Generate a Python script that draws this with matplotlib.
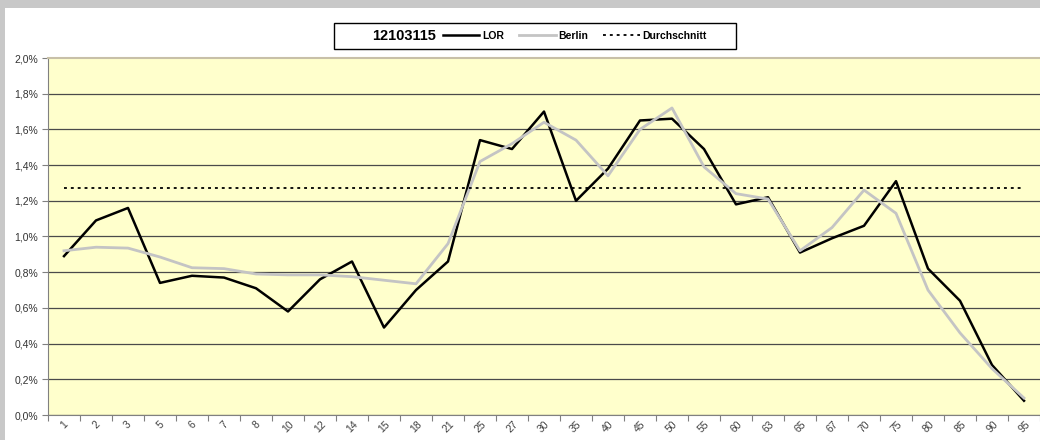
import numpy as np
import matplotlib
matplotlib.use('Agg')
import matplotlib.pyplot as plt
from matplotlib.patches import Rectangle
from matplotlib.ticker import FuncFormatter

plt.rcParams['font.family'] = ['Liberation Sans', 'DejaVu Sans']

# age groups (category labels)
alter = ['1', '2', '3', '5', '6', '7', '8', '10', '12', '14', '15', '18', '21', '25', '27',
         '30', '35', '40', '45', '50', '55', '60', '63', '65', '67', '70', '75', '80', '85', '90', '95']

# shares in percent
lor = [0.89, 1.09, 1.16, 0.74, 0.78, 0.77, 0.71, 0.58, 0.76, 0.86, 0.49, 0.70, 0.86, 1.54, 1.49,
       1.70, 1.20, 1.38, 1.65, 1.66, 1.49, 1.18, 1.22, 0.91, 0.99, 1.06, 1.31, 0.82, 0.64, 0.28, 0.08]
berlin = [0.92, 0.94, 0.935, 0.885, 0.825, 0.82, 0.79, 0.785, 0.785, 0.775, 0.755, 0.735, 0.96, 1.42, 1.52,
          1.64, 1.54, 1.34, 1.60, 1.72, 1.39, 1.24, 1.21, 0.92, 1.05, 1.26, 1.13, 0.70, 0.46, 0.26, 0.095]
durchschnitt = 1.273

W, H = 1040, 440
fig = plt.figure(figsize=(W / 100, H / 100), dpi=100, facecolor='#c8c8c8')
# white chart area inside the grey frame
fig.patches.append(Rectangle((5 / W, 0), 1, (H - 8) / H, transform=fig.transFigure,
                             facecolor='white', edgecolor='none', zorder=-10))

ax = fig.add_axes([48 / W, 25 / H, 992 / W, 357 / H])
ax.set_facecolor('#ffffcc')

x = np.arange(len(alter))
l1, = ax.plot(x, lor, color='black', lw=1.8, zorder=3)
l2, = ax.plot(x, berlin, color='#c4c4c4', lw=2.0, zorder=4)
l3, = ax.plot(x, [durchschnitt] * len(alter), color='black', lw=1.3,
              linestyle=(0, (1.6, 2.2)), zorder=5)

ax.set_xlim(-0.5, len(alter) - 0.5)
ax.set_ylim(0, 2.0)
ax.set_yticks(np.arange(0, 2.01, 0.2))
ax.yaxis.set_major_formatter(FuncFormatter(lambda v, p: f'{v:.1f}%'.replace('.', ',')))
ax.tick_params(axis='y', length=4, color='#808080', labelsize=7.5, labelcolor='#333333', pad=3)

ax.yaxis.grid(True, color='#4a4a4a', lw=0.9)
ax.get_ygridlines()[-1].set_visible(False)
ax.set_axisbelow(True)

# ticks between categories, labels at category centres
ax.set_xticks(np.arange(len(alter) + 1) - 0.5)
ax.set_xticklabels([])
ax.set_xticks(x, minor=True)
ax.set_xticklabels(alter, minor=True, rotation=45, fontsize=7.5, color='#404040')
ax.tick_params(axis='x', which='major', length=4, color='#808080')
ax.tick_params(axis='x', which='minor', length=0, pad=3)

for s in ['left', 'bottom']:
    ax.spines[s].set_color('#808080')
ax.spines['top'].set_color('#c8c0a8')
ax.spines['top'].set_linewidth(1.5)
ax.spines['right'].set_visible(False)

# legend box with the LOR number
fig.patches.append(Rectangle((334 / W, (H - 49) / H), 402 / W, 26 / H, transform=fig.transFigure,
                             facecolor='white', edgecolor='black', lw=1, zorder=1))
fig.text(372 / W, (H - 36) / H, '12103115', fontsize=10.5, fontweight='bold', ha='left', va='center')
fig.legend([l1, l2, l3], ['LOR', 'Berlin', 'Durchschnitt'], loc='center left',
           bbox_to_anchor=(443 / W, (H - 36) / H), ncol=3, frameon=False,
           prop={'weight': 'bold', 'size': 7.5}, handlelength=3.5, handletextpad=0.3,
           columnspacing=1.4, borderaxespad=0, borderpad=0)

fig.savefig('out.png', dpi=100, facecolor=fig.get_facecolor())
